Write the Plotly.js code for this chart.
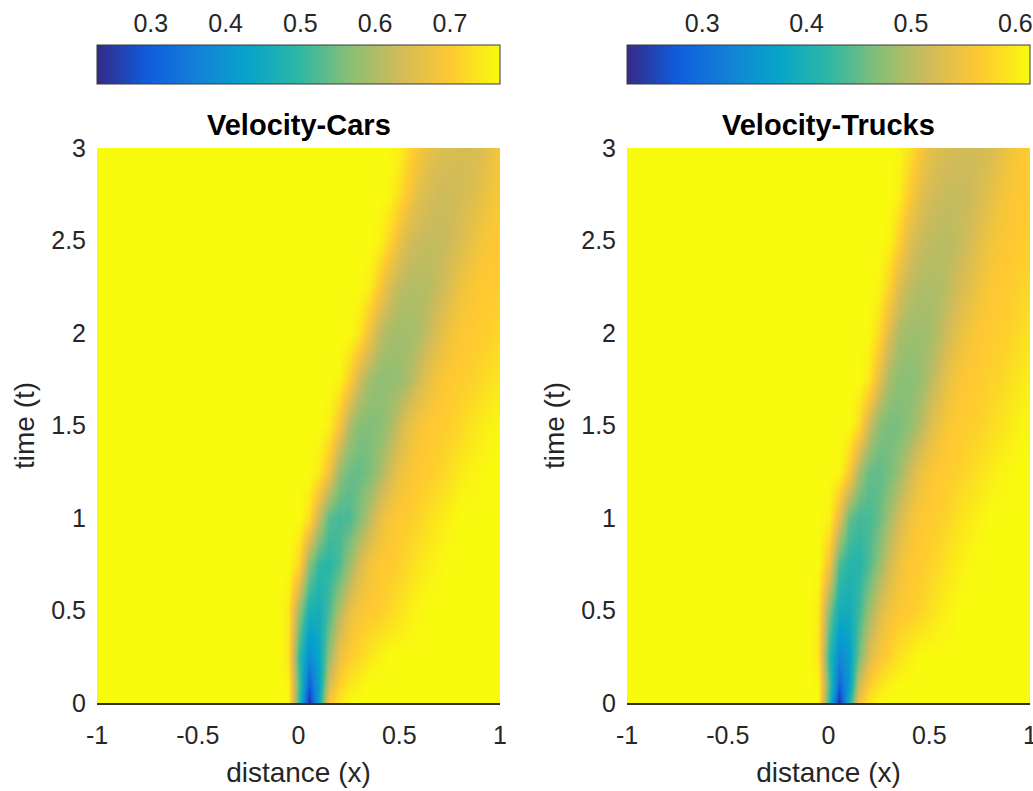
<!DOCTYPE html>
<html>
<head>
<meta charset="utf-8">
<script src="https://cdn.plot.ly/plotly-3.0.1.min.js"></script>
<style>
  html, body { margin: 0; padding: 0; background: #ffffff; }
  #chart { width: 1033px; height: 791px; }
</style>
</head>
<body>
<div id="chart"></div>
<script>
// distance grid (x) and time grid (t)
const distanceX = [-1, -0.15, -0.1, -0.05, 0, 0.05, 0.1, 0.15, 0.2, 0.25, 0.3, 0.35, 0.4, 0.45, 0.5, 0.55, 0.6, 0.65, 0.7, 0.75, 0.8, 0.85, 0.9, 0.95, 1];
const timeT = [0, 0.1, 0.25, 0.5, 0.75, 1, 1.25, 1.5, 1.75, 2, 2.25, 2.5, 2.75, 3];

// Velocity of cars (rows = timeT, columns = distanceX)
const velocityCars = [
  [0.767,0.767,0.767,0.767,0.50,0.23,0.45,0.70,0.745,0.767,0.767,0.767,0.767,0.767,0.767,0.767,0.767,0.767,0.767,0.767,0.767,0.767,0.767,0.767,0.767],
  [0.767,0.767,0.767,0.76,0.52,0.30,0.43,0.64,0.71,0.74,0.755,0.767,0.767,0.767,0.767,0.767,0.767,0.767,0.767,0.767,0.767,0.767,0.767,0.767,0.767],
  [0.767,0.767,0.767,0.74,0.50,0.38,0.44,0.58,0.67,0.705,0.72,0.74,0.755,0.767,0.767,0.767,0.767,0.767,0.767,0.767,0.767,0.767,0.767,0.767,0.767],
  [0.767,0.767,0.767,0.745,0.58,0.47,0.46,0.52,0.60,0.66,0.69,0.70,0.705,0.72,0.735,0.75,0.76,0.767,0.767,0.767,0.767,0.767,0.767,0.767,0.767],
  [0.767,0.767,0.767,0.767,0.72,0.57,0.50,0.49,0.52,0.58,0.64,0.68,0.70,0.70,0.71,0.725,0.74,0.75,0.76,0.767,0.767,0.767,0.767,0.767,0.767],
  [0.767,0.767,0.767,0.767,0.767,0.73,0.62,0.53,0.515,0.52,0.56,0.61,0.66,0.69,0.70,0.705,0.715,0.73,0.745,0.755,0.767,0.767,0.767,0.767,0.767],
  [0.767,0.767,0.767,0.767,0.767,0.767,0.745,0.68,0.58,0.545,0.54,0.555,0.59,0.63,0.67,0.69,0.70,0.705,0.715,0.73,0.745,0.755,0.76,0.767,0.767],
  [0.767,0.767,0.767,0.767,0.767,0.767,0.767,0.75,0.69,0.60,0.565,0.56,0.565,0.59,0.63,0.665,0.69,0.70,0.705,0.71,0.72,0.735,0.745,0.755,0.76],
  [0.767,0.767,0.767,0.767,0.767,0.767,0.767,0.767,0.76,0.71,0.635,0.59,0.575,0.575,0.58,0.60,0.635,0.665,0.69,0.70,0.705,0.71,0.72,0.73,0.74],
  [0.767,0.767,0.767,0.767,0.767,0.767,0.767,0.767,0.767,0.765,0.74,0.68,0.62,0.595,0.59,0.59,0.60,0.625,0.655,0.68,0.695,0.70,0.705,0.71,0.72],
  [0.767,0.767,0.767,0.767,0.767,0.767,0.767,0.767,0.767,0.767,0.765,0.75,0.70,0.645,0.615,0.605,0.605,0.61,0.625,0.65,0.675,0.69,0.70,0.70,0.705],
  [0.767,0.767,0.767,0.767,0.767,0.767,0.767,0.767,0.767,0.767,0.767,0.767,0.755,0.72,0.67,0.635,0.625,0.62,0.62,0.63,0.645,0.665,0.685,0.695,0.70],
  [0.767,0.767,0.767,0.767,0.767,0.767,0.767,0.767,0.767,0.767,0.767,0.767,0.767,0.76,0.73,0.69,0.655,0.64,0.63,0.63,0.635,0.645,0.66,0.68,0.695],
  [0.767,0.767,0.767,0.767,0.767,0.767,0.767,0.767,0.767,0.767,0.767,0.767,0.767,0.765,0.755,0.72,0.69,0.665,0.65,0.645,0.64,0.64,0.645,0.665,0.69]
];

// Velocity of trucks (rows = timeT, columns = distanceX)
const velocityTrucks = [
  [0.614,0.614,0.614,0.614,0.421,0.228,0.402,0.556,0.599,0.614,0.614,0.614,0.614,0.614,0.614,0.614,0.614,0.614,0.614,0.614,0.614,0.614,0.614,0.614,0.614],
  [0.614,0.614,0.614,0.610,0.440,0.286,0.363,0.518,0.568,0.591,0.606,0.614,0.614,0.614,0.614,0.614,0.614,0.614,0.614,0.614,0.614,0.614,0.614,0.614,0.614],
  [0.614,0.614,0.614,0.595,0.421,0.332,0.363,0.460,0.529,0.560,0.575,0.591,0.602,0.614,0.614,0.614,0.614,0.614,0.614,0.614,0.614,0.614,0.614,0.614,0.614],
  [0.614,0.614,0.614,0.599,0.467,0.394,0.390,0.429,0.483,0.525,0.552,0.564,0.568,0.575,0.587,0.599,0.606,0.614,0.614,0.614,0.614,0.614,0.614,0.614,0.614],
  [0.614,0.614,0.614,0.614,0.556,0.440,0.413,0.413,0.440,0.479,0.518,0.548,0.564,0.568,0.575,0.583,0.595,0.602,0.610,0.614,0.614,0.614,0.614,0.614,0.614],
  [0.614,0.614,0.614,0.614,0.606,0.537,0.452,0.433,0.435,0.452,0.487,0.521,0.548,0.564,0.568,0.572,0.579,0.591,0.599,0.606,0.614,0.614,0.614,0.614,0.614],
  [0.614,0.614,0.614,0.614,0.614,0.610,0.568,0.490,0.452,0.448,0.460,0.483,0.514,0.541,0.560,0.568,0.570,0.575,0.583,0.591,0.599,0.606,0.610,0.614,0.614],
  [0.614,0.614,0.614,0.614,0.614,0.614,0.614,0.583,0.514,0.471,0.460,0.462,0.475,0.498,0.525,0.548,0.564,0.568,0.572,0.575,0.583,0.591,0.599,0.606,0.610],
  [0.614,0.614,0.614,0.614,0.614,0.614,0.614,0.614,0.595,0.537,0.490,0.473,0.471,0.479,0.498,0.521,0.545,0.560,0.566,0.570,0.575,0.579,0.587,0.595,0.602],
  [0.614,0.614,0.614,0.614,0.614,0.614,0.614,0.614,0.610,0.583,0.529,0.494,0.485,0.483,0.487,0.502,0.521,0.541,0.556,0.564,0.568,0.572,0.575,0.583,0.591],
  [0.614,0.614,0.614,0.614,0.614,0.614,0.614,0.614,0.614,0.606,0.575,0.529,0.506,0.496,0.494,0.496,0.506,0.521,0.537,0.552,0.562,0.566,0.570,0.575,0.579],
  [0.614,0.614,0.614,0.614,0.614,0.614,0.614,0.614,0.614,0.614,0.606,0.572,0.533,0.514,0.506,0.502,0.502,0.510,0.521,0.537,0.552,0.560,0.564,0.568,0.572],
  [0.614,0.614,0.614,0.614,0.614,0.614,0.614,0.614,0.614,0.614,0.614,0.602,0.568,0.537,0.521,0.514,0.510,0.510,0.514,0.525,0.537,0.552,0.560,0.564,0.568],
  [0.614,0.614,0.614,0.614,0.614,0.614,0.614,0.614,0.614,0.614,0.614,0.610,0.591,0.564,0.541,0.529,0.523,0.519,0.518,0.519,0.525,0.537,0.552,0.564,0.568]
];

// colour ranges of the two colour bars
const carsRange = [0.228, 0.767];
const trucksRange = [0.228, 0.614];

// tick labels
const xTickVals = [-1, -0.5, 0, 0.5, 1];
const xTickText = ['-1', '-0.5', '0', '0.5', '1'];
const yTickVals = [0, 0.5, 1, 1.5, 2, 2.5, 3];
const yTickText = ['0', '0.5', '1', '1.5', '2', '2.5', '3'];
const carsBarTicks = [0.3, 0.4, 0.5, 0.6, 0.7];
const trucksBarTicks = [0.3, 0.4, 0.5, 0.6];
const titles = ['Velocity-Cars', 'Velocity-Trucks'];

// parula colour map
const parula = [
  [0.000, '#352a87'], [0.125, '#0f5cdd'], [0.250, '#1481d6'],
  [0.375, '#06a4ca'], [0.500, '#2eb7a4'], [0.625, '#87bf77'],
  [0.750, '#d1bb59'], [0.875, '#fec832'], [1.000, '#f9fb0e']
];

const FONT = 'Liberation Sans, Arial, Helvetica, sans-serif';
const TXT = '#262626';
const W = 1033, H = 791;
const leftDom = [97 / W, 500 / W];
const rightDom = [627 / W, 1030 / W];
const yDom = [1 - 703 / H, 1 - 148 / H];
const barTop = 1 - 45 / H;
const TICK = 25, LABEL = 28, TITLE = 29;

function cbar(dom) {
  return {
    orientation: 'h',
    x: (dom[0] + dom[1]) / 2, xanchor: 'center',
    y: barTop, yanchor: 'top',
    len: dom[1] - dom[0], lenmode: 'fraction',
    thickness: 39, thicknessmode: 'pixels',
    xpad: 0, ypad: 0,
    outlinewidth: 1, outlinecolor: '#3a3a3a',
    showticklabels: false, ticks: ''
  };
}

const data = [
  {
    type: 'heatmap', x: distanceX, y: timeT, z: velocityCars,
    xaxis: 'x', yaxis: 'y',
    colorscale: parula, zmin: carsRange[0], zmax: carsRange[1],
    zsmooth: 'best', colorbar: cbar(leftDom), hoverinfo: 'x+y+z'
  },
  {
    type: 'heatmap', x: distanceX, y: timeT, z: velocityTrucks,
    xaxis: 'x2', yaxis: 'y2',
    colorscale: parula, zmin: trucksRange[0], zmax: trucksRange[1],
    zsmooth: 'best', colorbar: cbar(rightDom), hoverinfo: 'x+y+z'
  },
  // empty carriers for the colour-bar label axes
  { type: 'scatter', x: [], y: [], xaxis: 'x3', yaxis: 'y3', mode: 'markers', showlegend: false, hoverinfo: 'skip' },
  { type: 'scatter', x: [], y: [], xaxis: 'x4', yaxis: 'y4', mode: 'markers', showlegend: false, hoverinfo: 'skip' }
];

function xAx(dom, anchor) {
  return {
    domain: dom, anchor: anchor, range: [-1, 1], fixedrange: true,
    tickmode: 'array', tickvals: xTickVals, ticktext: xTickText,
    ticks: '', ticklabelstandoff: 9, ticklabeloverflow: 'allow',
    showgrid: false, zeroline: false,
    showline: true, linecolor: '#333333', linewidth: 1.5, mirror: false,
    tickfont: { family: FONT, size: TICK, color: TXT },
    title: { text: 'distance (x)', font: { family: FONT, size: LABEL, color: TXT }, standoff: 15 }
  };
}
function yAx(anchor) {
  return {
    domain: yDom, anchor: anchor, range: [0, 3], fixedrange: true,
    tickmode: 'array', tickvals: yTickVals, ticktext: yTickText,
    ticks: '', ticklabelstandoff: 10,
    showgrid: false, zeroline: false, showline: false,
    tickfont: { family: FONT, size: TICK, color: TXT },
    title: { text: 'time (t)', font: { family: FONT, size: LABEL, color: TXT }, standoff: 8 }
  };
}
function barAx(dom, anchor, range, ticks) {
  return {
    domain: dom, anchor: anchor, side: 'top', range: range, fixedrange: true,
    tickmode: 'array', tickvals: ticks, ticktext: ticks.map(String),
    ticks: '', ticklabelstandoff: 7, ticklabeloverflow: 'allow',
    showgrid: false, zeroline: false, showline: false,
    tickfont: { family: FONT, size: TICK, color: TXT }
  };
}
function hiddenY(anchor) {
  return {
    domain: [1 - 84 / H, barTop], anchor: anchor, range: [0, 1], fixedrange: true,
    showticklabels: false, showgrid: false, zeroline: false, showline: false, ticks: ''
  };
}

const layout = {
  width: W, height: H,
  margin: { l: 0, r: 0, t: 0, b: 0 },
  paper_bgcolor: '#ffffff', plot_bgcolor: '#ffffff',
  showlegend: false,
  xaxis: xAx(leftDom, 'y'),
  yaxis: yAx('x'),
  xaxis2: xAx(rightDom, 'y2'),
  yaxis2: yAx('x2'),
  xaxis3: barAx(leftDom, 'y3', carsRange, carsBarTicks),
  yaxis3: hiddenY('x3'),
  xaxis4: barAx(rightDom, 'y4', trucksRange, trucksBarTicks),
  yaxis4: hiddenY('x4'),
  annotations: titles.map((t, i) => ({
    text: t, xref: (i === 0 ? 'x' : 'x2') + ' domain', x: 0.5, xanchor: 'center',
    yref: 'paper', y: 1 - 125 / H, yanchor: 'middle', showarrow: false,
    font: { family: FONT, size: TITLE, color: '#000000', weight: 'bold' }
  }))
};

Plotly.newPlot('chart', data, layout, { displayModeBar: false, staticPlot: true });
</script>
</body>
</html>
